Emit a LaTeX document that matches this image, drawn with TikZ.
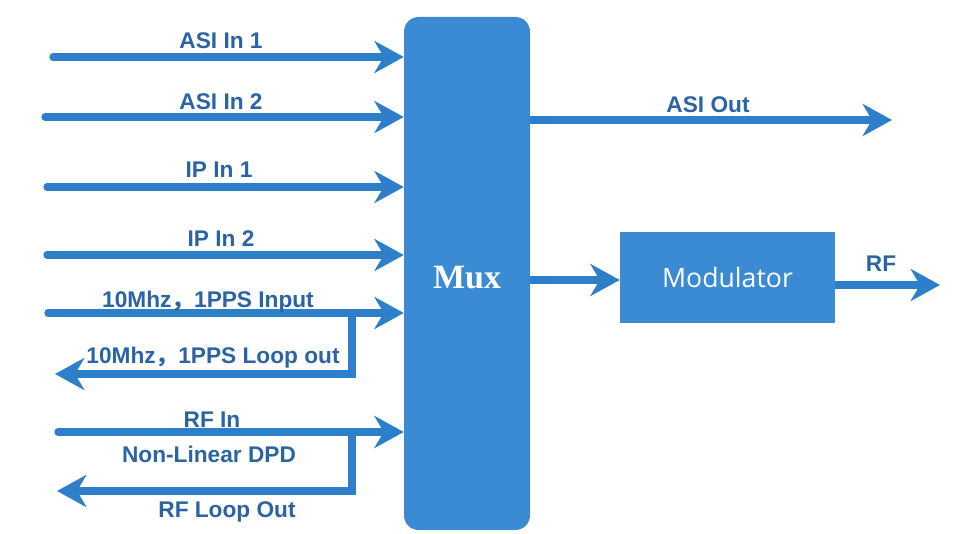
\documentclass[tikz,border=0pt]{standalone}
\usepackage{fontspec}
\setmainfont{Liberation Sans}
\newfontfamily\muxfont{Liberation Serif}
\newfontfamily\modfont{Open Sans}
\newfontfamily\cjk{Noto Sans CJK SC}
\usetikzlibrary{arrows.meta}
\definecolor{boxblue}{HTML}{3A8BD4}
\definecolor{lineblue}{HTML}{2E7FCA}
\definecolor{txtblue}{HTML}{2A64A4}
\begin{document}
\begin{tikzpicture}[x=0.75pt,y=-0.75pt,
  conn/.style={draw=lineblue,line width=5.5pt,line cap=round,-{Stealth[length=22pt,width=24pt,inset=7pt]}},
  lbl/.style={anchor=base,text=txtblue,inner sep=0pt,font=\fontsize{17pt}{19pt}\selectfont\bfseries},
  blockbox/.style={fill=boxblue,draw=none,inner sep=0pt}]
\useasboundingbox[fill=white] (0,0) rectangle (973,534);
% blocks
\node[blockbox,rounded corners=11pt,minimum width=94.5pt,minimum height=384.75pt] (mux) at (467,273.5) {};
\node[anchor=base,text=white,inner sep=0pt,font=\fontsize{25.5pt}{28pt}\muxfont\bfseries] (muxlbl) at (467,288) {Mux};
\node[blockbox,minimum width=161.25pt,minimum height=68.25pt,text=white,font=\fontsize{20pt}{24pt}\modfont] (mod) at (727.5,277.5) {Modulator};
% inputs
\coordinate (a1) at (53,57);
\coordinate (a2) at (45,117);
\coordinate (i1) at (47,187);
\coordinate (i2) at (47,255);
\coordinate (c1) at (48,313);
\coordinate (r1) at (58,432);
\draw[conn] (a1) -- (a1 -| mux.west);
\draw[conn] (a2) -- (a2 -| mux.west);
\draw[conn] (i1) -- (i1 -| mux.west);
\draw[conn] (i2) -- (i2 -| mux.west);
\draw[conn] (c1) -- (c1 -| mux.west);
\draw[conn] (r1) -- (r1 -| mux.west);
% loops
\coordinate (j1) at (352,313);
\coordinate (lo1) at (55,374);
\coordinate (j2) at (352,432);
\coordinate (lo2) at (57,491);
\draw[conn] (j1) |- (lo1);
\draw[conn] (j2) |- (lo2);
% outputs
\coordinate (ao) at (892,120);
\coordinate (m1) at (530,280);
\coordinate (rfo) at (940,285);
\draw[conn,line cap=butt] (ao -| mux.east) -- (ao);
\draw[conn,line cap=butt] (m1) -- (m1 -| mod.west);
\draw[conn,line cap=butt] (rfo -| mod.east) -- (rfo);
% labels
\node[lbl] (la1) at (221,49) {ASI In 1};
\node[lbl] (la2) at (221,110) {ASI In 2};
\node[lbl] (li1) at (219,178) {IP In 1};
\node[lbl] (li2) at (221,247) {IP In 2};
\node[lbl] (lc1) at (208,307) {10Mhz{\cjk ，}1PPS Input};
\node[lbl] (lc2) at (213,363) {10Mhz{\cjk ，}1PPS Loop out};
\node[lbl] (lr1) at (212,427) {RF In};
\node[lbl] (ldpd) at (209,462) {Non-Linear DPD};
\node[lbl] (lr2) at (227,517) {RF Loop Out};
\node[lbl] (lao) at (708,113) {ASI Out};
\node[lbl] (lrf) at (881,272) {RF};
\end{tikzpicture}
\end{document}
